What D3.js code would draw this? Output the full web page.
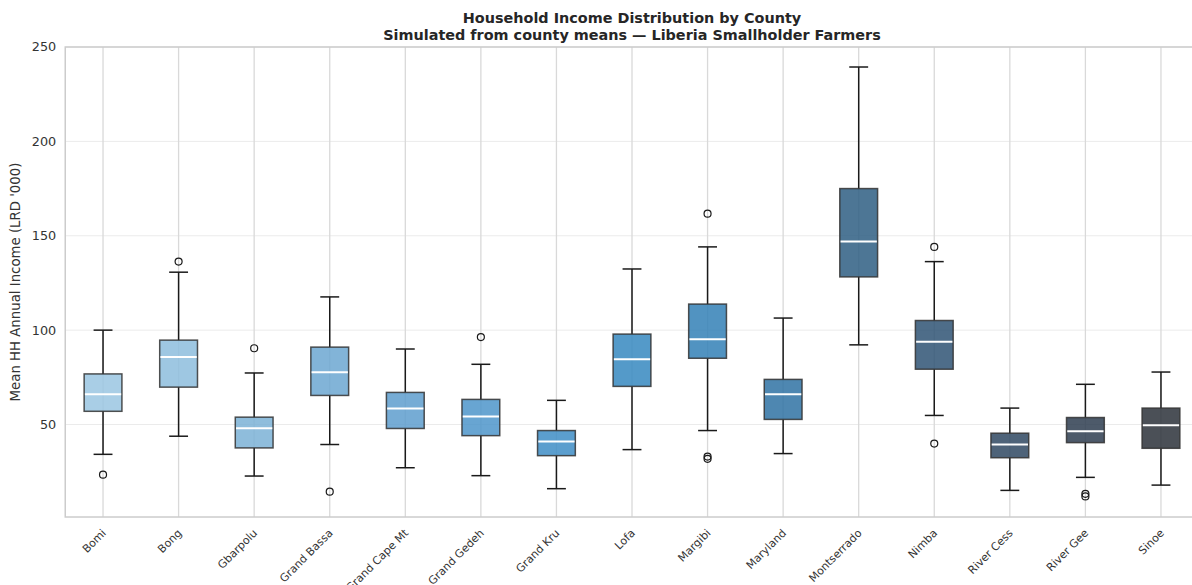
<!DOCTYPE html>
<html>
<head>
<meta charset="utf-8">
<script src="https://cdn.jsdelivr.net/npm/d3@7"></script>
<style>
  body { margin: 0; background: #fff; }
  svg { display: block; font-family: "DejaVu Sans", sans-serif; }
</style>
</head>
<body>
<div class="vis-holder"></div>
<script>
const width = 1192;
const height = 585;

// county order on the x axis
const counties = ["Bomi", "Bong", "Gbarpolu", "Grand Bassa", "Grand Cape Mt", "Grand Gedeh",
    "Grand Kru", "Lofa", "Margibi", "Maryland", "Montserrado", "Nimba", "River Cess", "River Gee", "Sinoe"];

// box stats (LRD '000)
const whiskLow = [34.2, 43.8, 22.7, 39.4, 27.1, 22.9, 16.0, 36.7, 46.8, 34.6, 92.2, 54.8, 15.1, 22.0, 17.9];
const q1       = [57.0, 69.8, 37.6, 65.4, 47.9, 44.1, 33.5, 70.2, 85.1, 52.7, 128.2, 79.3, 32.4, 40.4, 37.4];
const medians  = [66.0, 85.8, 48.0, 77.7, 58.5, 54.3, 41.0, 84.6, 95.2, 66.0, 147.0, 93.8, 39.4, 46.4, 49.6];
const q3       = [76.8, 94.7, 53.9, 91.0, 67.0, 63.3, 46.8, 97.9, 113.8, 73.9, 175.0, 105.1, 45.4, 53.7, 58.7];
const whiskHigh = [100.0, 130.7, 77.3, 117.6, 90.0, 81.9, 62.8, 132.4, 144.1, 106.4, 239.4, 136.3, 58.7, 71.3, 77.8];
const outliers = [[23.4], [136.3], [90.4], [14.4], [], [96.3], [], [], [161.7, 33.0, 31.8], [], [], [144.1, 39.9], [], [13.3, 11.9], []];

const yTicks = [50, 100, 150, 200, 250];

const colors = ["#9ac6e2", "#8dbddd", "#7bb1d6", "#6ca7d1", "#5e9dce", "#4d95ca", "#3e8dc6", "#3688c0",
    "#3380b6", "#2f72a3", "#2e5e83", "#2f5374", "#2f4862", "#2e3d50", "#2b313a"];

const rows = counties.map((c, i) => ({
    name: c, lo: whiskLow[i], q1: q1[i], med: medians[i], q3: q3[i], hi: whiskHigh[i],
    out: outliers[i], color: colors[i]
}));

const margin = {top: 47, left: 65.25, bottom: 517};
const plotRight = 1198.75;

const svg = d3.select(".vis-holder").append("svg")
    .attr("width", width)
    .attr("height", height);

const x = d3.scalePoint()
    .domain(counties)
    .range([margin.left, plotRight])
    .padding(0.5);

const y = d3.scaleLinear()
    .domain([1, 250])
    .range([margin.bottom, margin.top]);

const boxW = x.step() * 0.5;
const capW = boxW * 0.5;

// grid
svg.append("g")
    .selectAll("line")
    .data(yTicks)
    .enter().append("line")
    .attr("x1", margin.left).attr("x2", plotRight)
    .attr("y1", d => y(d)).attr("y2", d => y(d))
    .attr("stroke", "#ebebeb")
    .attr("stroke-width", 1);

svg.append("g")
    .selectAll("line")
    .data(counties)
    .enter().append("line")
    .attr("x1", d => x(d)).attr("x2", d => x(d))
    .attr("y1", margin.top).attr("y2", margin.bottom)
    .attr("stroke", "#d9d9d9")
    .attr("stroke-width", 1.3);

// spines
svg.append("rect")
    .attr("x", margin.left).attr("y", margin.top)
    .attr("width", plotRight - margin.left)
    .attr("height", margin.bottom - margin.top)
    .attr("fill", "none")
    .attr("stroke", "#cccccc")
    .attr("stroke-width", 1.5);

const box = svg.append("g")
    .selectAll("g")
    .data(rows)
    .enter().append("g")
    .attr("transform", d => `translate(${x(d.name)},0)`);

// whiskers
box.append("line")
    .attr("y1", d => y(d.lo)).attr("y2", d => y(d.q1))
    .attr("stroke", "#1a1a1a").attr("stroke-width", 1.5);
box.append("line")
    .attr("y1", d => y(d.q3)).attr("y2", d => y(d.hi))
    .attr("stroke", "#1a1a1a").attr("stroke-width", 1.5);
box.append("line")
    .attr("x1", -capW / 2).attr("x2", capW / 2)
    .attr("y1", d => y(d.lo)).attr("y2", d => y(d.lo))
    .attr("stroke", "#1a1a1a").attr("stroke-width", 1.5);
box.append("line")
    .attr("x1", -capW / 2).attr("x2", capW / 2)
    .attr("y1", d => y(d.hi)).attr("y2", d => y(d.hi))
    .attr("stroke", "#1a1a1a").attr("stroke-width", 1.5);

box.append("rect")
    .attr("x", -boxW / 2)
    .attr("width", boxW)
    .attr("y", d => y(d.q3))
    .attr("height", d => y(d.q1) - y(d.q3))
    .attr("fill", d => d.color)
    .attr("fill-opacity", 0.85)
    .attr("stroke", "#333333")
    .attr("stroke-opacity", 0.85)
    .attr("stroke-width", 1.5);

box.append("line")
    .attr("x1", -boxW / 2 + 0.75).attr("x2", boxW / 2 - 0.75)
    .attr("y1", d => y(d.med)).attr("y2", d => y(d.med))
    .attr("stroke", "#ffffff").attr("stroke-width", 2);

box.selectAll("circle")
    .data(d => d.out)
    .enter().append("circle")
    .attr("cx", 0)
    .attr("cy", d => y(d))
    .attr("r", 3.5)
    .attr("fill", "none")
    .attr("stroke", "#1a1a1a")
    .attr("stroke-width", 1.2);

// y axis labels
svg.append("g")
    .selectAll("text")
    .data(yTicks)
    .enter().append("text")
    .attr("x", margin.left - 9)
    .attr("y", d => y(d))
    .attr("dy", "0.35em")
    .attr("text-anchor", "end")
    .attr("font-size", 12.8)
    .attr("fill", "#333")
    .text(d => d);

// x axis labels
svg.append("g")
    .selectAll("text")
    .data(counties)
    .enter().append("text")
    .attr("transform", d => `translate(${x(d) + 1},${margin.bottom + 14}) rotate(-45)`)
    .attr("text-anchor", "end")
    .attr("dy", "0.35em")
    .attr("font-size", 11)
    .attr("fill", "#333")
    .text(d => d);

svg.append("text")
    .attr("transform", `translate(20,${(margin.top + margin.bottom) / 2}) rotate(-90)`)
    .attr("text-anchor", "middle")
    .attr("font-size", 13.3)
    .attr("fill", "#333")
    .text("Mean HH Annual Income (LRD '000)");

const cx = (margin.left + plotRight) / 2;
svg.append("text")
    .attr("x", cx).attr("y", 23)
    .attr("text-anchor", "middle")
    .attr("font-size", 14.4)
    .attr("font-weight", "bold")
    .attr("fill", "#262626")
    .text("Household Income Distribution by County");
svg.append("text")
    .attr("x", cx).attr("y", 40)
    .attr("text-anchor", "middle")
    .attr("font-size", 14.4)
    .attr("font-weight", "bold")
    .attr("fill", "#262626")
    .text("Simulated from county means — Liberia Smallholder Farmers");
</script>
</body>
</html>
